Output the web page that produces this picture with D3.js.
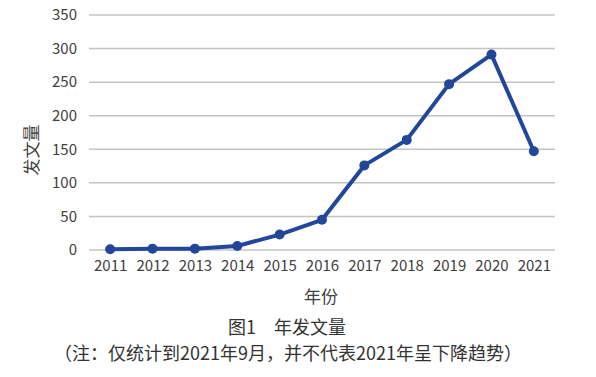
<!DOCTYPE html>
<html>
<head>
<meta charset="utf-8">
<script src="https://cdn.jsdelivr.net/npm/d3@7"></script>
<style>
  body { margin: 0; background: #fff; }
  svg text { font-family: "Noto Sans CJK SC", "Noto Sans", sans-serif; fill: #404040; }
  .grid line { stroke: #c4c4c4; stroke-width: 1.5; }
  .tick text { font-size: 15px; }
</style>
</head>
<body>
<script>
var years = ['2011', '2012', '2013', '2014', '2015', '2016', '2017', '2018', '2019', '2020', '2021'];
var counts = [1, 2, 2, 6, 23, 45, 126, 164, 247, 291, 147];
var yTicks = [0, 50, 100, 150, 200, 250, 300, 350];

var svgWidth = 596, svgHeight = 377;
var plotLeft = 89, plotRight = 555, plotTop = 15, plotBottom = 250;

var xScale = d3.scalePoint()
    .domain(years)
    .range([plotLeft, plotRight])
    .padding(0.5);

var yScale = d3.scaleLinear()
    .domain([0, 350])
    .range([plotBottom, plotTop]);

var svg = d3.select('body')
    .append('svg')
    .attr('width', svgWidth)
    .attr('height', svgHeight);

// gridlines
svg.append('g')
    .attr('class', 'grid')
    .selectAll('line')
    .data(yTicks)
    .enter()
    .append('line')
    .attr('x1', plotLeft)
    .attr('x2', plotRight)
    .attr('y1', function(d) { return yScale(d); })
    .attr('y2', function(d) { return yScale(d); });

var yAxis = d3.axisLeft(yScale).tickValues(yTicks).tickSize(0).tickPadding(12);
svg.append('g')
    .attr('transform', `translate(${plotLeft}, 0)`)
    .call(yAxis)
    .call(function(g) { g.select('.domain').remove(); });

var xAxis = d3.axisBottom(xScale).tickSize(0).tickPadding(10);
svg.append('g')
    .attr('transform', `translate(0, ${plotBottom})`)
    .call(xAxis)
    .call(function(g) { g.select('.domain').remove(); });

var line = d3.line()
    .x(function(d, i) { return xScale(years[i]); })
    .y(function(d) { return yScale(d); });

svg.append('path')
    .datum(counts)
    .attr('fill', 'none')
    .attr('stroke', '#22479a')
    .attr('stroke-width', 4)
    .attr('stroke-linejoin', 'round')
    .attr('d', line);

svg.selectAll('circle')
    .data(counts)
    .enter()
    .append('circle')
    .attr('cx', function(d, i) { return xScale(years[i]); })
    .attr('cy', function(d) { return yScale(d); })
    .attr('r', 5)
    .attr('fill', '#22479a');

// axis titles
svg.append('text')
    .attr('transform', 'translate(33, 150) rotate(-90)')
    .attr('text-anchor', 'middle')
    .attr('dominant-baseline', 'middle')
    .style('font-size', '17px')
    .text('发文量');

svg.append('text')
    .attr('x', 321)
    .attr('y', 303)
    .attr('text-anchor', 'middle')
    .style('font-size', '17px')
    .text('年份');

svg.append('text')
    .attr('x', 287)
    .attr('y', 334)
    .attr('text-anchor', 'middle')
    .style('font-size', '18px')
    .style('fill', '#333')
    .text('图1\u3000年发文量');

svg.append('text')
    .attr('x', 288)
    .attr('y', 360)
    .attr('text-anchor', 'middle')
    .style('font-size', '18px')
    .style('fill', '#333')
    .text('（注：仅统计到2021年9月，并不代表2021年呈下降趋势）');
</script>
</body>
</html>
